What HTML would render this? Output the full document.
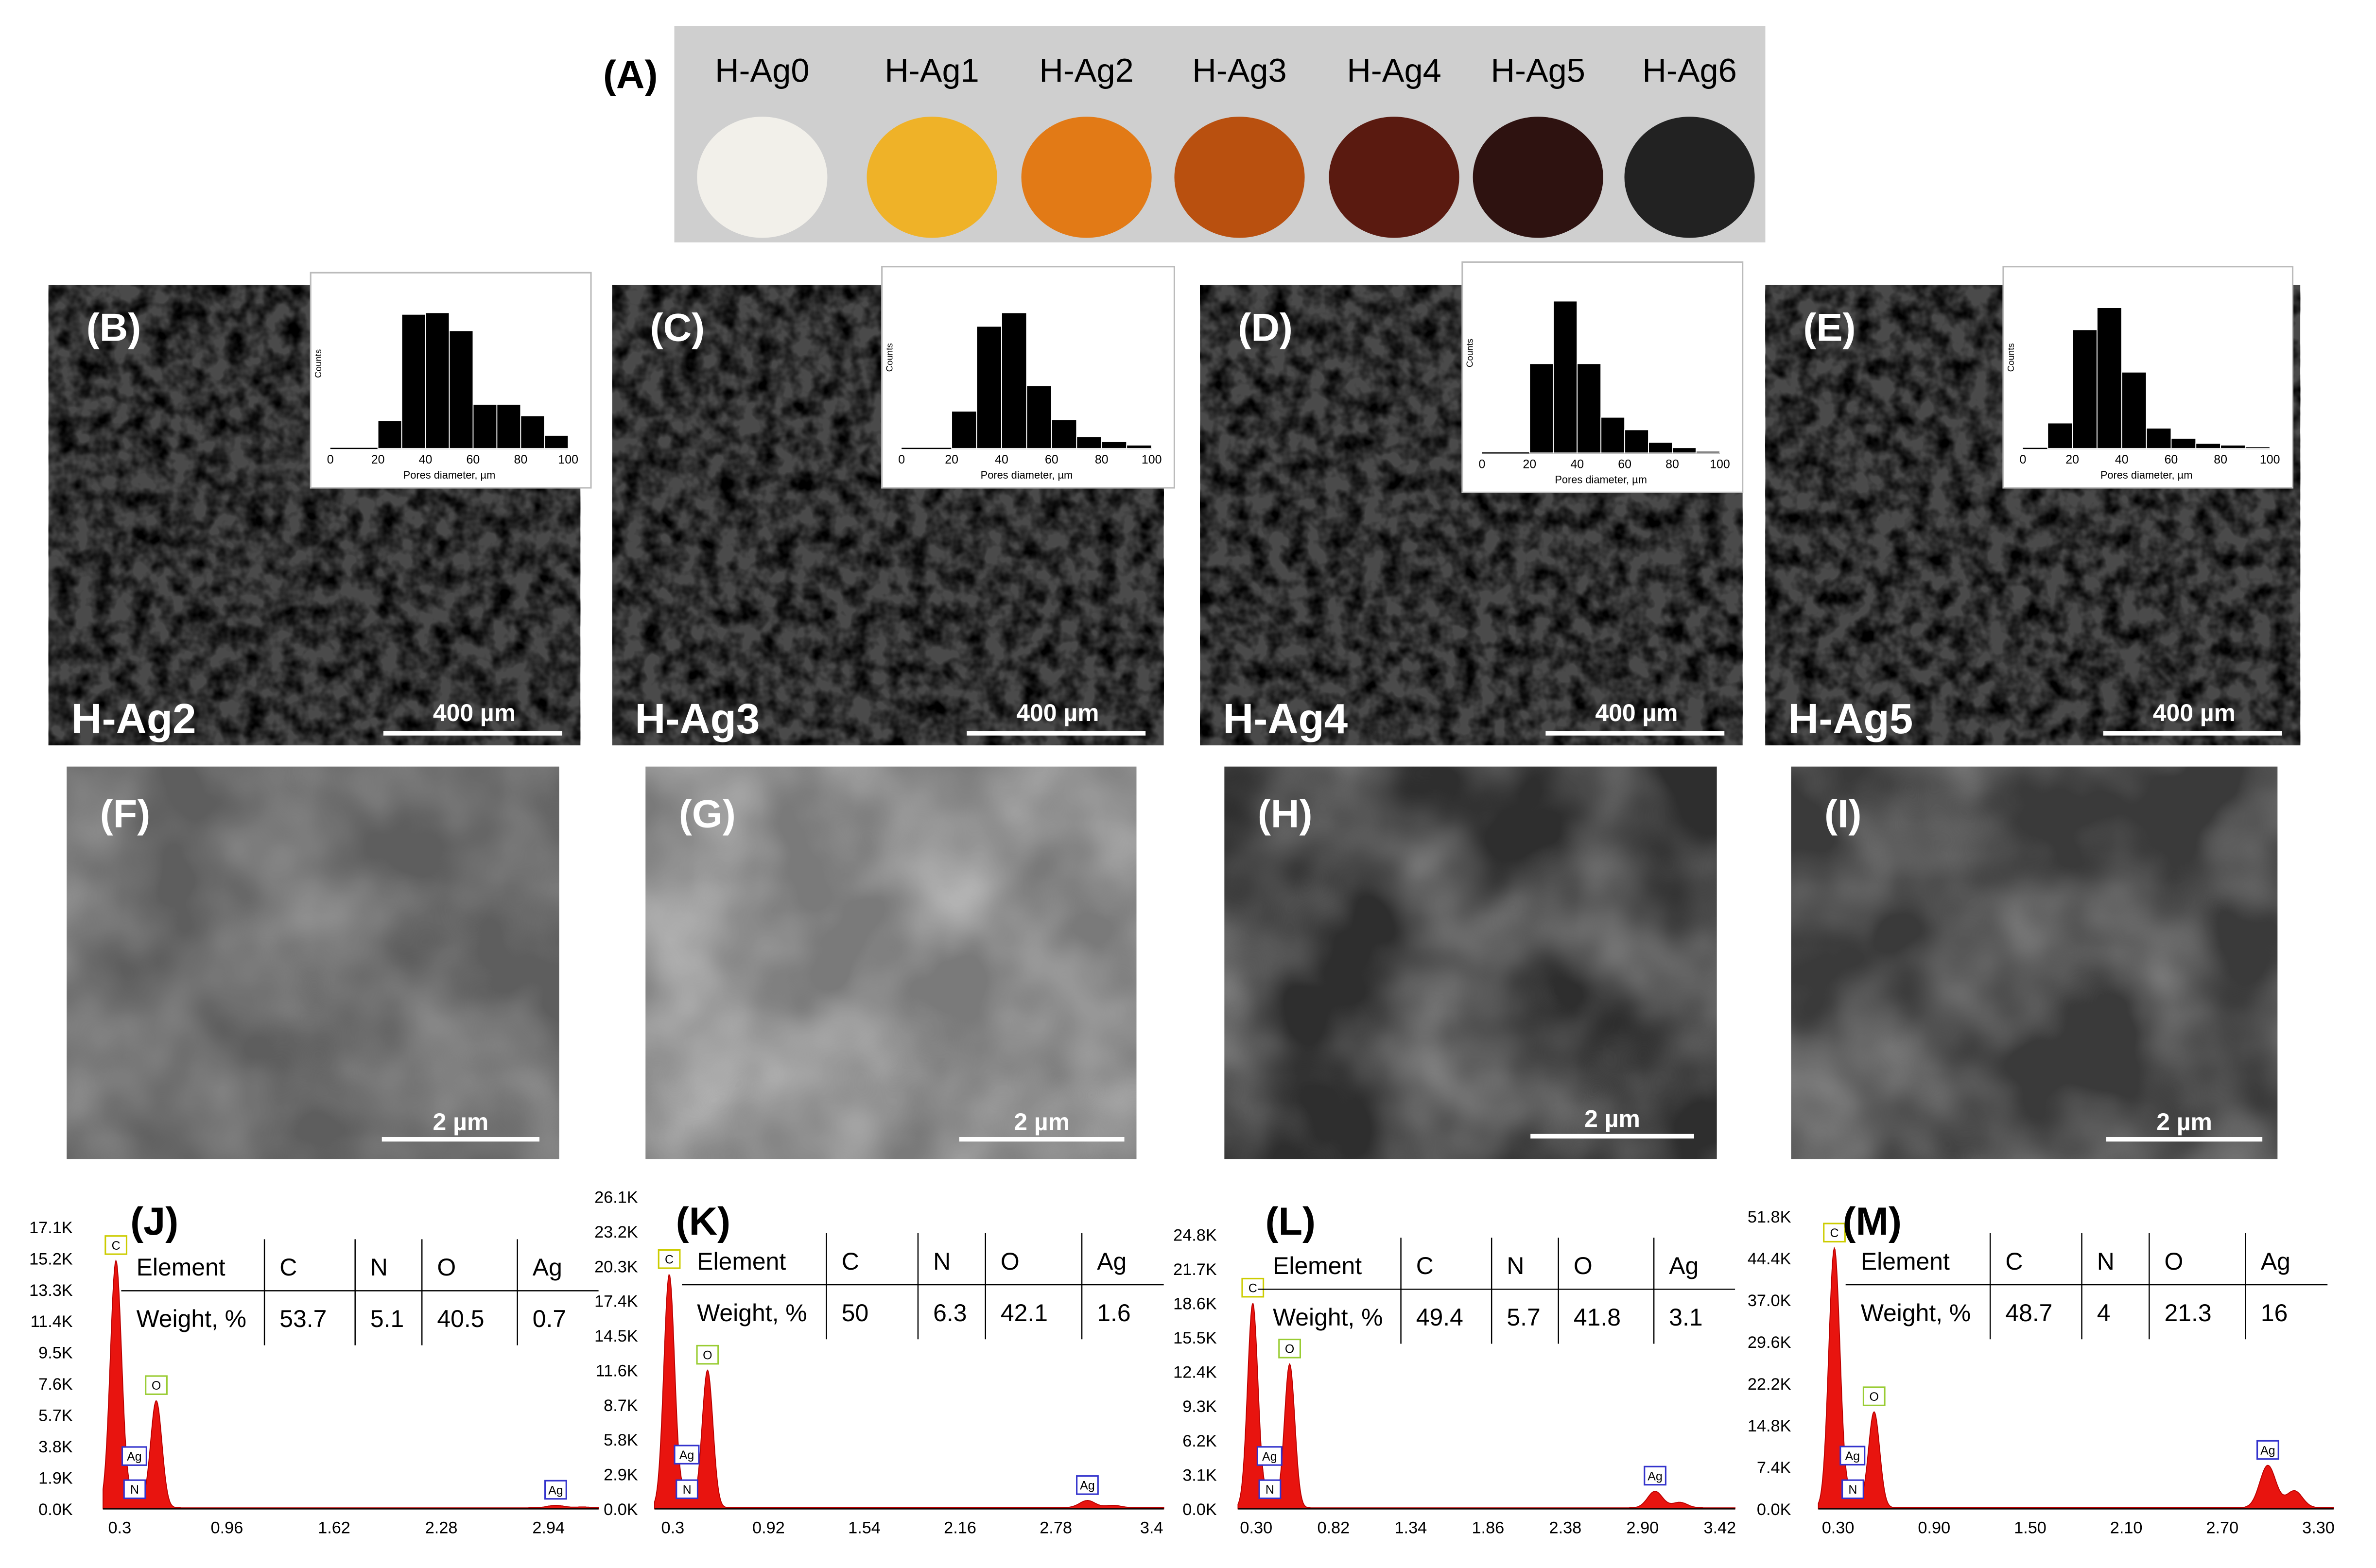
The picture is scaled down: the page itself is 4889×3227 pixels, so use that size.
<!DOCTYPE html>
<html><head><meta charset="utf-8"><style>
html,body{margin:0;padding:0;background:#fff}
svg{display:block}
text{font-family:"Liberation Sans",sans-serif}
</style></head><body>
<svg id="fig" xmlns="http://www.w3.org/2000/svg" width="4889" height="3227" viewBox="0 0 1568 1035" preserveAspectRatio="none">
<defs>
<filter id="sem" x="0" y="0" width="100%" height="100%">
<feTurbulence type="fractalNoise" baseFrequency="0.08" numOctaves="3" seed="3"/>
<feColorMatrix type="matrix" values="0 0 0 0 0  0 0 0 0 0  0 0 0 0 0  2.2 0 0 0 -0.75"/>
</filter>
<filter id="sem2" x="0" y="0" width="100%" height="100%">
<feTurbulence type="fractalNoise" baseFrequency="0.012" numOctaves="3" seed="7"/>
<feColorMatrix type="matrix" values="0 0 0 0 1  0 0 0 0 1  0 0 0 0 1  1.4 0 0 0 -0.45"/>
</filter>
</defs>
<rect width="1568" height="1035" fill="#fff"/>
<g id="root"></g>
</svg>
<script>
const NS="http://www.w3.org/2000/svg";
const root=document.getElementById('root');
function mk(tag,attrs,parent,txt){const e=document.createElementNS(NS,tag);for(const k in attrs)e.setAttribute(k,attrs[k]);if(txt!==undefined)e.textContent=txt;(parent||root).appendChild(e);return e;}

// Panel A data
const sampleLabels=["H-Ag0","H-Ag1","H-Ag2","H-Ag3","H-Ag4","H-Ag5","H-Ag6"];
const sampleX=[503,615,717,818,920,1015,1115];
const sampleColors=["#f2f0ea","#efb228","#e27a16","#b9500f","#5a1a10","#2e1210","#222"];

// Histogram data (bin starts, relative counts)
const histBins=[0,10,20,30,40,50,60,70,80,90];
const histB=[0,0,0.17,0.82,0.83,0.72,0.27,0.27,0.2,0.08];
const histC=[0,0,0.22,0.72,0.8,0.37,0.17,0.07,0.04,0.02];
const histD=[0,0,0.5,0.85,0.5,0.2,0.13,0.06,0.03,0.01];
const histE=[0,0.15,0.7,0.83,0.45,0.12,0.06,0.03,0.02,0.01];
const histTicks=[0,20,40,60,80,100];

// EDS data
const tableHead=["Element","C","N","O","Ag"];
const tableJ=["Weight, %","53.7","5.1","40.5","0.7"];
const tableK=["Weight, %","50","6.3","42.1","1.6"];
const tableL=["Weight, %","49.4","5.7","41.8","3.1"];
const tableM=["Weight, %","48.7","4","21.3","16"];
const peakE=[0.277,0.392,0.525,2.984,3.15];
const peaksJ=[15.0,1.0,6.5,0.15,0.05];
const peaksK=[19.5,1.5,11.5,0.6,0.2];
const peaksL=[18.5,1.5,13.0,1.5,0.5];
const peaksM=[46,3,17,7.5,3];
const yTicksJ=["17.1K","15.2K","13.3K","11.4K","9.5K","7.6K","5.7K","3.8K","1.9K","0.0K"];
const yTicksK=["26.1K","23.2K","20.3K","17.4K","14.5K","11.6K","8.7K","5.8K","2.9K","0.0K"];
const yTicksL=["24.8K","21.7K","18.6K","15.5K","12.4K","9.3K","6.2K","3.1K","0.0K"];
const yTicksM=["51.8K","44.4K","37.0K","29.6K","22.2K","14.8K","7.4K","0.0K"];
const xTicksJ=["0.3","0.96","1.62","2.28","2.94"];
const xTicksK=["0.3","0.92","1.54","2.16","2.78","3.4"];
const xTicksL=["0.30","0.82","1.34","1.86","2.38","2.90","3.42"];
const xTicksM=["0.30","0.90","1.50","2.10","2.70","3.30"];

// ---- Panel A
mk('text',{x:398,y:58,'font-size':26,'font-weight':'bold',},root,'(A)');
mk('rect',{x:445,y:17,width:720,height:143,fill:'#cfcfcf',});
sampleLabels.forEach((l,i)=>{
  const t=mk('text',{x:sampleX[i],y:54,'font-size':22,'text-anchor':'middle'},root,l);
  
  
  const c=mk('ellipse',{cx:sampleX[i],cy:117,rx:43,ry:40,fill:sampleColors[i]});
  
  
});

// ---- SEM row 1
const semRow1=[{x:32,w:351,l:'(B)',n:'H-Ag2',h:histB,ix:205,iy:180,iw:185,ih:142},
 {x:404,w:364,l:'(C)',n:'H-Ag3',h:histC,ix:582,iy:176,iw:193,ih:146},
 {x:792,w:358,l:'(D)',n:'H-Ag4',h:histD,ix:965,iy:173,iw:185,ih:152},
 {x:1165,w:353,l:'(E)',n:'H-Ag5',h:histE,ix:1322,iy:176,iw:191,ih:146}];
semRow1.forEach((p,k)=>{
  const g=mk('g',{});
  
  
  mk('rect',{x:p.x,y:188,width:p.w,height:304,fill:'#4a4a4a'},g);
  mk('rect',{x:p.x,y:188,width:p.w,height:304,fill:'#e6e6e6',filter:'url(#sem)'},g);
  mk('text',{x:p.x+25,y:225,'font-size':26,'font-weight':'bold',fill:'#fff'},g,p.l);
  mk('text',{x:p.x+15,y:484,'font-size':28,'font-weight':'bold',fill:'#fff'},g,p.n);
  mk('line',{x1:p.x+p.w-130,x2:p.x+p.w-12,y1:484,y2:484,stroke:'#fff','stroke-width':3},g);
  mk('text',{x:p.x+p.w-70,y:476,'font-size':16,'font-weight':'bold',fill:'#fff','text-anchor':'middle'},g,'400 µm');
  const ig=mk('g',{});
  
  
  mk('rect',{x:p.ix,y:p.iy,width:p.iw,height:p.ih,fill:'#fff',stroke:'#bbb'},ig);
  const x0=p.ix+13,x1=p.ix+p.iw-15,yb=p.iy+p.ih-26,yt=p.iy+8;
  const sx=v=>x0+(x1-x0)*v/100, sy=v=>yb-(yb-yt)*v;
  mk('line',{x1:x0,x2:x1,y1:yb,y2:yb,stroke:'#000','stroke-width':0.8},ig);
  histBins.forEach((b,i)=>{ if(p.h[i]>0){
    const r=mk('rect',{x:sx(b),y:sy(p.h[i]),width:sx(b+10)-sx(b),height:yb-sy(p.h[i]),fill:'#000',stroke:'#fff','stroke-width':0.6},ig);
    
    
  }});
  histTicks.forEach(t=>mk('text',{x:sx(t),y:yb+10,'font-size':8,'text-anchor':'middle'},ig,t));
  mk('text',{x:(x0+x1)/2,y:yb+20,'font-size':7,'text-anchor':'middle'},ig,'Pores diameter, µm');
  mk('text',{x:p.ix+7,y:p.iy+60,'font-size':6,transform:`rotate(-90 ${p.ix+7} ${p.iy+60})`,'text-anchor':'middle'},ig,'Counts');
});

// ---- SEM row 2
const semRow2=[{x:44,w:325,l:'(F)',bar:[252,356],by:752},{x:426,w:324,l:'(G)',bar:[633,742],by:752},
 {x:808,w:325,l:'(H)',bar:[1010,1118],by:750},{x:1182,w:321,l:'(I)',bar:[1390,1493],by:752}];
const semBase=['#5e5e5e','#7a7a7a','#2e2e2e','#3a3a3a'];
const semOp=[0.45,0.6,0.5,0.5];
semRow2.forEach((p,k)=>{
  const g=mk('g',{});
  
  
  mk('rect',{x:p.x,y:506,width:p.w,height:259,fill:semBase[k]},g);
  mk('rect',{x:p.x,y:506,width:p.w,height:259,filter:'url(#sem2)',opacity:semOp[k]},g);
  mk('text',{x:p.x+22,y:546,'font-size':26,'font-weight':'bold',fill:'#fff'},g,p.l);
  mk('line',{x1:p.bar[0],x2:p.bar[1],y1:p.by,y2:p.by,stroke:'#fff','stroke-width':3},g);
  mk('text',{x:(p.bar[0]+p.bar[1])/2,y:p.by-6,'font-size':16,'font-weight':'bold',fill:'#fff','text-anchor':'middle'},g,'2 µm');
});

// ---- EDS spectra
const eds=[
 {l:'(J)',lx:86,table:tableJ,tx:80,tw:315,ty:818,yt:yTicksJ,yTop:810,ylx:48,xt:xTicksJ,xp:[79,362],x0:68,x1:395,pk:peaksJ,max:17.1},
 {l:'(K)',lx:446,table:tableK,tx:450,tw:318,ty:814,yt:yTicksK,yTop:790,ylx:421,xt:xTicksK,xp:[444,760],x0:432,x1:768,pk:peaksK,max:26.1},
 {l:'(L)',lx:835,table:tableL,tx:830,tw:315,ty:817,yt:yTicksL,yTop:815,ylx:803,xt:xTicksL,xp:[829,1135],x0:817,x1:1145,pk:peaksL,max:24.8},
 {l:'(M)',lx:1216,table:tableM,tx:1218,tw:318,ty:814,yt:yTicksM,yTop:803,ylx:1182,xt:xTicksM,xp:[1213,1530],x0:1200,x1:1540,pk:peaksM,max:51.8}];
const yZero=996;
eds.forEach((s,k)=>{
  const g=mk('g',{});
  
  
  const ex0=parseFloat(s.xt[0]),ex1=parseFloat(s.xt[s.xt.length-1]);
  const sx=e=>s.xp[0]+(s.xp[1]-s.xp[0])*(e-ex0)/(ex1-ex0);
  const sy=v=>yZero-(yZero-s.yTop)*v/s.max;
  const n=s.yt.length;
  s.yt.forEach((t,i)=>mk('text',{x:s.ylx,y:s.yTop+(yZero-s.yTop)*i/(n-1)+4,'font-size':11,'text-anchor':'end'},g,t));
  s.xt.forEach(t=>mk('text',{x:sx(parseFloat(t)),y:1012,'font-size':11,'text-anchor':'middle'},g,t));
  let d=`M${s.x0},${yZero}`;
  for(let px=s.x0;px<=s.x1;px+=0.5){
    const e=ex0+(px-s.xp[0])*(ex1-ex0)/(s.xp[1]-s.xp[0]);
    let v=0; peakE.forEach((pe,i)=>{const w=pe>2?0.05:0.035;v+=s.pk[i]*Math.exp(-((e-pe)**2)/(2*w*w));});
    v+=s.max*0.004;
    d+=` L${px.toFixed(1)},${sy(v).toFixed(1)}`;
  }
  d+=` L${s.x1},${yZero} Z`;
  const sp=mk('path',{d:d,fill:'#e8140f',stroke:'#b00','stroke-width':0.6},g);
  
  
  mk('line',{x1:s.x0,x2:s.x1,y1:yZero,y2:yZero,stroke:'#000','stroke-width':0.8},g);
  [['C',0,'#cc0'],['O',2,'#9c3'],['Ag',3,'#33c'],['N',1,'#33c']].forEach(([lab,i,col])=>{
    const y=lab==='N'?yZero-12:sy(s.pk[i])-10;
    const x=sx(peakE[i]);
    mk('rect',{x:x-7,y:y-7,width:14,height:12,fill:'#fff',stroke:col,'stroke-width':1},g);
    mk('text',{x:x,y:y+2,'font-size':8,'text-anchor':'middle'},g,lab);
  });
  mk('rect',{x:sx(0.39)-8,y:sy(Math.max(s.pk[1],0))-30,width:16,height:12,fill:'#fff',stroke:'#33c'},g);
  mk('text',{x:sx(0.39),y:sy(Math.max(s.pk[1],0))-21,'font-size':8,'text-anchor':'middle'},g,'Ag');
  mk('text',{x:s.lx,y:815,'font-size':26,'font-weight':'bold'},g,s.l);
  const tg=mk('g',{});
  
  
  const colW=[0.3,0.19,0.14,0.2,0.17].map(f=>f*s.tw);
  let cx=s.tx; const colX=[];
  colW.forEach(w=>{colX.push(cx);cx+=w;});
  mk('line',{x1:s.tx,x2:s.tx+s.tw,y1:s.ty+34,y2:s.ty+34,stroke:'#000','stroke-width':0.8},tg);
  colX.slice(1).forEach(x=>mk('line',{x1:x,x2:x,y1:s.ty,y2:s.ty+70,stroke:'#000','stroke-width':0.8},tg));
  tableHead.forEach((h,i)=>mk('text',{x:colX[i]+10,y:s.ty+24,'font-size':16},tg,h));
  s.table.forEach((h,i)=>mk('text',{x:colX[i]+10,y:s.ty+58,'font-size':16},tg,h));
});
</script>
</body></html>
